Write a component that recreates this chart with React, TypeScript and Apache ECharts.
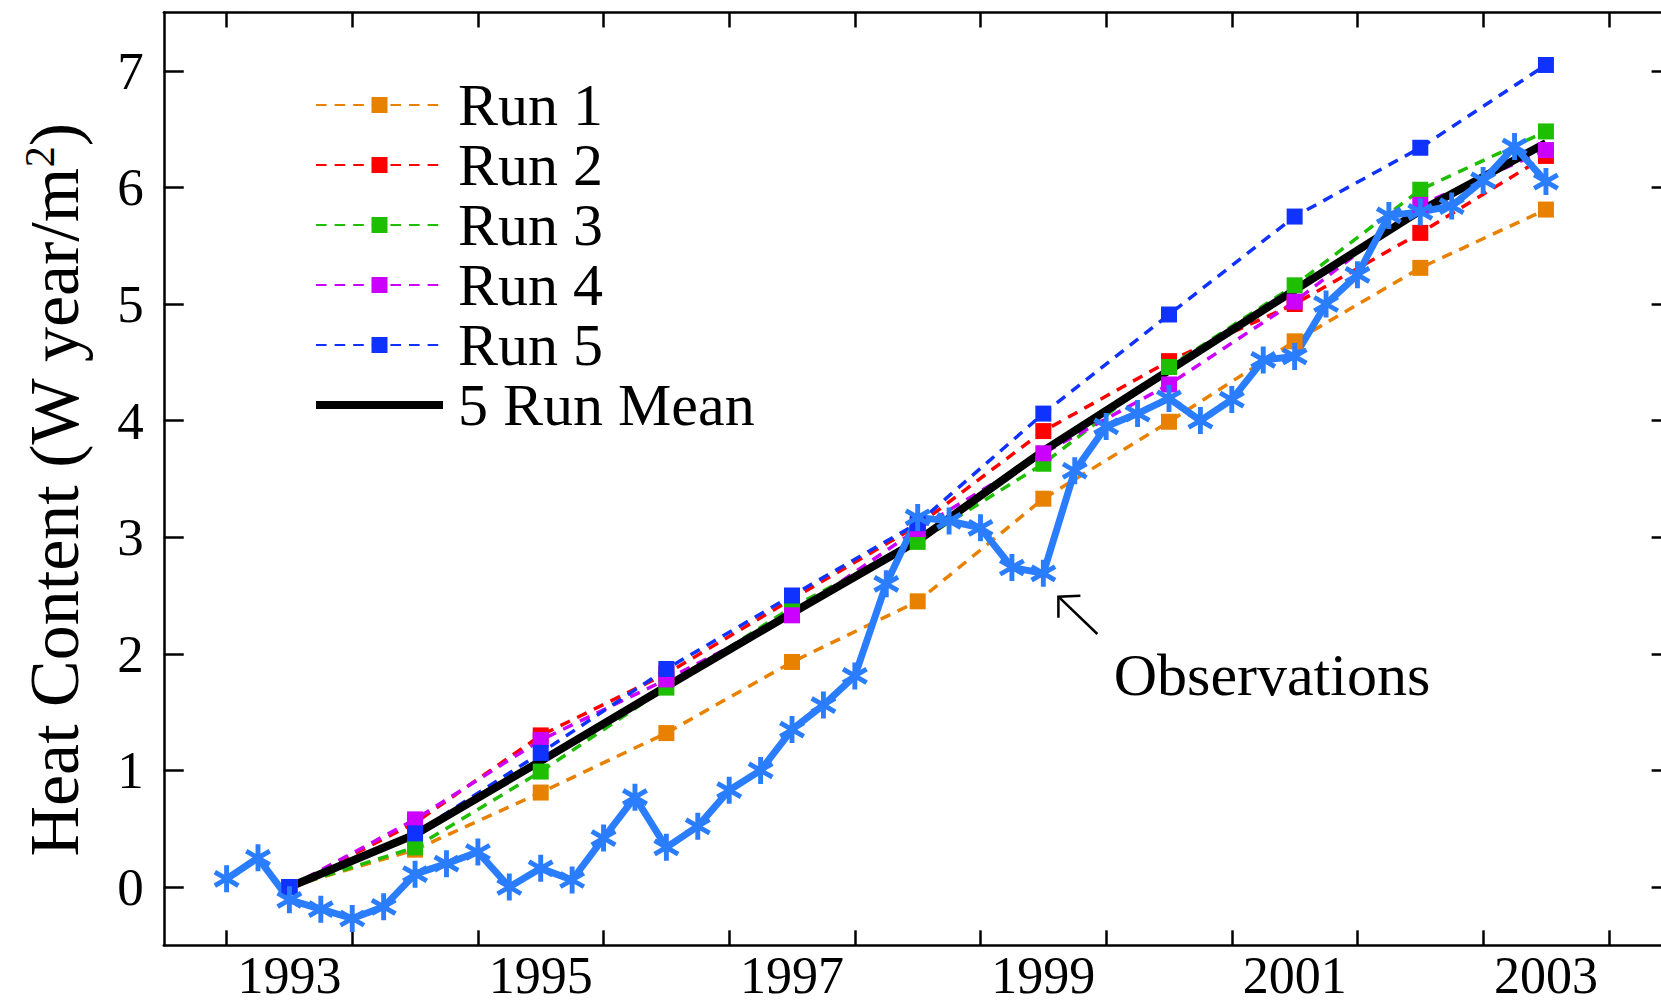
import React, { useEffect, useRef } from "react";
import * as echarts from "echarts";

// ---- Data ----
const runYears = [1993.5, 1994.5, 1995.5, 1996.5, 1997.5, 1998.5, 1999.5, 2000.5, 2001.5, 2002.5, 2003.5];
const run1 = [0, 0.32, 0.81, 1.32, 1.93, 2.45, 3.33, 3.99, 4.68, 5.31, 5.81];
const run2 = [0, 0.55, 1.30, 1.83, 2.47, 3.10, 3.91, 4.51, 5.00, 5.61, 6.27];
const run3 = [0, 0.34, 0.99, 1.71, 2.40, 2.96, 3.63, 4.46, 5.16, 5.98, 6.48];
const run4 = [0, 0.58, 1.26, 1.78, 2.33, 3.07, 3.72, 4.31, 5.02, 5.85, 6.32];
const run5 = [0, 0.46, 1.15, 1.87, 2.50, 3.12, 4.06, 4.91, 5.75, 6.34, 7.05];
const runMean = [0, 0.45, 1.08, 1.72, 2.35, 2.97, 3.74, 4.43, 5.12, 5.80, 6.38];

const obsTimes = [
  1993.0, 1993.25, 1993.5, 1993.75, 1994.0, 1994.25, 1994.5, 1994.75,
  1995.0, 1995.25, 1995.5, 1995.75, 1996.0, 1996.25, 1996.5, 1996.75,
  1997.0, 1997.25, 1997.5, 1997.75, 1998.0, 1998.25, 1998.5, 1998.75,
  1999.0, 1999.25, 1999.5, 1999.75, 2000.0, 2000.25, 2000.5, 2000.75,
  2001.0, 2001.25, 2001.5, 2001.75, 2002.0, 2002.25, 2002.5, 2002.75,
  2003.0, 2003.25, 2003.5,
];
const obsValues = [
  0.07, 0.25, -0.11, -0.19, -0.27, -0.17, 0.11, 0.20,
  0.30, 0.00, 0.16, 0.06, 0.42, 0.77, 0.34, 0.52,
  0.83, 1.00, 1.35, 1.56, 1.81, 2.60, 3.17, 3.14,
  3.08, 2.74, 2.69, 3.57, 3.95, 4.06, 4.19, 4.00,
  4.18, 4.52, 4.55, 5.00, 5.25, 5.76, 5.79, 5.84,
  6.06, 6.35, 6.05,
];

const xTickYears = [1993, 1994, 1995, 1996, 1997, 1998, 1999, 2000, 2001, 2002, 2003, 2004];
const xLabelYears = [1993.5, 1995.5, 1997.5, 1999.5, 2001.5, 2003.5];
const yTicks = [0, 1, 2, 3, 4, 5, 6, 7];

const seriesNames = ["Run 1", "Run 2", "Run 3", "Run 4", "Run 5"];
const seriesColors = ["#E88000", "#FF0000", "#1EBE00", "#CC00FF", "#1032FF"];
const runsData = [run1, run2, run3, run4, run5];
const meanName = "5 Run Mean";
const obsColor = "#2A7DFF";

// annotation: arrow tip, arrow tail, text anchor (data coords)
const arrowTip = [1999.62, 2.49];
const arrowTail = [1999.93, 2.17];
const obsLabelPos = [2000.06, 1.82];
const obsLabelText = "Observations";

const FONT = "Liberation Serif";

const asteriskPath =
  "path://M59,0L41,0L41,100L59,100Z" +
  "M97.8,32.79L88.8,17.21L2.2,67.21L11.2,82.79Z" +
  "M11.2,17.21L2.2,32.79L88.8,82.79L97.8,67.21Z";

const CHART_W = 1700;
const CHART_H = 1006;

function App() {
  const ref = useRef<HTMLDivElement>(null);

  useEffect(() => {
    if (!ref.current) return;
    const chart = echarts.init(ref.current, null, { renderer: "svg" });

    const axisLineStyle = { color: "#000", width: 2.5 };

    const runSeries = runsData.map((vals, k) => ({
      name: seriesNames[k],
      type: "line",
      xAxisIndex: 0,
      yAxisIndex: 0,
      data: runYears.map((yr, i) => [yr, vals[i]]),
      symbol: "rect",
      symbolSize: 16,
      lineStyle: { color: seriesColors[k], width: 3.5, type: [10.6, 8] },
      itemStyle: { color: seriesColors[k] },
      emphasis: { disabled: true },
    }));

    const option: any = {
      animation: false,
      backgroundColor: "#fff",
      textStyle: { fontFamily: FONT },
      grid: { left: 163.75, right: CHART_W - 1671.6, top: 12.5, bottom: CHART_H - 945.3 },
      legend: {
        orient: "vertical",
        left: 315,
        top: 75,
        padding: 0,
        itemGap: 0,
        itemWidth: 127,
        itemHeight: 20,
        selectedMode: false,
        textStyle: {
          fontFamily: FONT,
          fontSize: 60,
          lineHeight: 60,
          color: "#000",
          padding: [0, 0, 0, 10],
        },
        data: [
          ...seriesNames,
          { name: meanName, icon: "path://M0 0H127V8H0Z" },
        ],
      },
      xAxis: [
        {
          type: "value",
          position: "bottom",
          min: 1992.5,
          max: 2004.5,
          axisLine: { onZero: false, lineStyle: axisLineStyle },
          axisTick: { inside: true, length: 15, lineStyle: axisLineStyle, customValues: xTickYears },
          axisLabel: {
            customValues: xLabelYears,
            formatter: (v: number) => String(Math.floor(v)),
            fontFamily: FONT,
            fontSize: 52,
            lineHeight: 40,
            color: "#000",
            margin: 10,
          },
          splitLine: { show: false },
        },
        {
          type: "value",
          position: "top",
          min: 1992.5,
          max: 2004.5,
          axisLine: { onZero: false, lineStyle: axisLineStyle },
          axisTick: { inside: true, length: 15, lineStyle: axisLineStyle, customValues: xTickYears },
          axisLabel: { show: false },
          splitLine: { show: false },
        },
      ],
      yAxis: [
        {
          type: "value",
          position: "left",
          min: -0.5,
          max: 7.5,
          axisLine: { show: true, onZero: false, lineStyle: axisLineStyle },
          axisTick: { show: true, inside: true, length: 20, lineStyle: axisLineStyle, customValues: yTicks },
          axisLabel: {
            customValues: yTicks,
            fontFamily: FONT,
            fontSize: 53,
            color: "#000",
            margin: 20,
          },
          splitLine: { show: false },
        },
        {
          type: "value",
          position: "right",
          min: -0.5,
          max: 7.5,
          axisLine: { show: true, onZero: false, lineStyle: axisLineStyle },
          axisTick: { show: true, inside: true, length: 20, lineStyle: axisLineStyle, customValues: yTicks },
          axisLabel: { show: false },
          splitLine: { show: false },
        },
      ],
      graphic: [
        {
          type: "text",
          x: 54,
          y: 490,
          rotation: Math.PI / 2,
          style: {
            text: "{a|Heat Content (W year/m}{s|2}{a|)}",
            rich: {
              a: { fontFamily: FONT, fontSize: 70, fill: "#000", lineHeight: 70 },
              s: { fontFamily: FONT, fontSize: 42, fill: "#000", verticalAlign: "top", lineHeight: 42 },
            },
            align: "center",
            verticalAlign: "middle",
            textAlign: "center",
            textVerticalAlign: "middle",
          },
        },
      ],
      series: [
        ...runSeries,
        {
          name: meanName,
          type: "line",
          data: runYears.map((yr, i) => [yr, runMean[i]]),
          symbol: "none",
          lineStyle: { color: "#000", width: 8 },
          itemStyle: { color: "#000" },
          emphasis: { disabled: true },
        },
        {
          name: "Observations",
          type: "line",
          data: obsTimes.map((t, i) => [t, obsValues[i]]),
          symbol: asteriskPath,
          symbolSize: [26, 27],
          lineStyle: { color: obsColor, width: 7 },
          itemStyle: { color: obsColor },
          emphasis: { disabled: true },
        },
        {
          name: "annotation",
          type: "custom",
          coordinateSystem: "cartesian2d",
          silent: true,
          data: [[arrowTip[0], arrowTip[1], arrowTail[0], arrowTail[1], obsLabelPos[0], obsLabelPos[1]]],
          encode: { x: [0, 2, 4], y: [1, 3, 5] },
          renderItem: (params: any, api: any) => {
            const tip = api.coord([api.value(0), api.value(1)]);
            const tail = api.coord([api.value(2), api.value(3)]);
            const lab = api.coord([api.value(4), api.value(5)]);
            return {
              type: "group",
              children: [
                {
                  type: "line",
                  shape: { x1: tail[0], y1: tail[1], x2: tip[0], y2: tip[1] },
                  style: { stroke: "#000", lineWidth: 2.5 },
                },
                {
                  type: "polyline",
                  shape: {
                    points: [
                      [tip[0] + 22, tip[1] - 1],
                      [tip[0], tip[1]],
                      [tip[0], tip[1] + 21],
                    ],
                  },
                  style: { stroke: "#000", lineWidth: 2.5, fill: "none" },
                },
                {
                  type: "text",
                  x: lab[0],
                  y: lab[1],
                  style: {
                    text: obsLabelText,
                    fill: "#000",
                    font: `60px "${FONT}"`,
                    align: "left",
                    verticalAlign: "middle",
                    textAlign: "left",
                    textVerticalAlign: "middle",
                  },
                },
              ],
            };
          },
        },
      ],
    };

    chart.setOption(option);
    return () => {
      chart.dispose();
    };
  }, []);

  return (
    <div
      style={{
        position: "fixed",
        left: 0,
        top: 0,
        width: 1661,
        height: 1006,
        overflow: "hidden",
        background: "#fff",
      }}
    >
      <div ref={ref} style={{ width: CHART_W, height: CHART_H }} />
    </div>
  );
}

export default App;
